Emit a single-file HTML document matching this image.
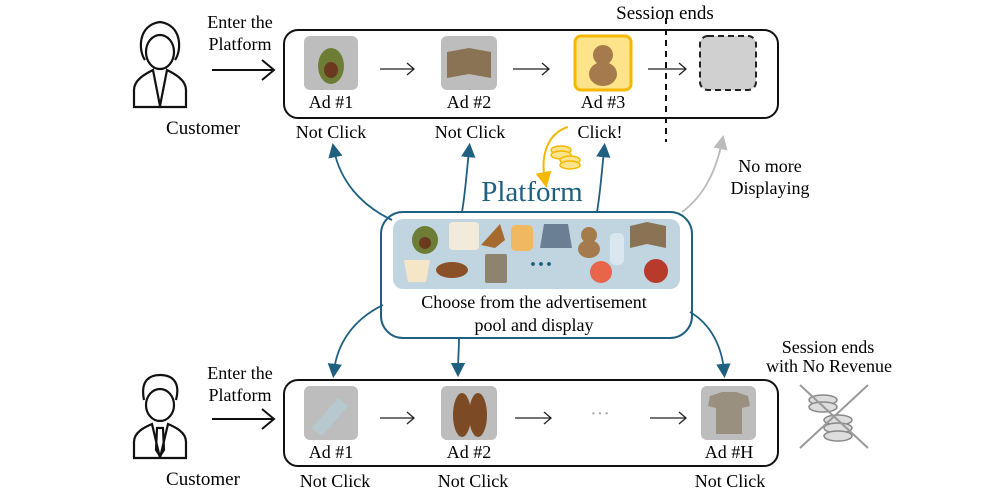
<!DOCTYPE html>
<html><head><meta charset="utf-8"><style>
html,body{margin:0;padding:0;background:#fff;}
svg{display:block;font-family:"Liberation Serif",serif;}
</style></head><body>
<svg width="997" height="495" viewBox="0 0 997 495" xmlns="http://www.w3.org/2000/svg">
<defs>
<marker id="ab" markerWidth="8" markerHeight="8" refX="4" refY="4" orient="auto"><path d="M0,0 L8,4 L0,8 z" fill="#1f6080"/></marker>
<marker id="ag" markerWidth="8" markerHeight="8" refX="4" refY="4" orient="auto"><path d="M0,0 L8,4 L0,8 z" fill="#bbb"/></marker>
<marker id="ay" markerWidth="8" markerHeight="8" refX="4" refY="4" orient="auto"><path d="M0,0 L8,4 L0,8 z" fill="#f5b800"/></marker>
</defs>
<g fill="#000" font-size="18" text-anchor="middle">
<g fill="none" stroke="#111" stroke-width="2.2">
<path d="M145,60 C138,50 138,25 160,22 C182,25 182,50 175,60"/>
<ellipse cx="160" cy="52" rx="14" ry="17"/>
<path d="M134,107 L134,90 C134,80 145,74 153,70 L160,106 L167,70 C175,74 186,80 186,90 L186,107 Z"/>
</g>
<text x="203" y="134" font-size="19">Customer</text>
<text x="240" y="28">Enter the</text><text x="240" y="50">Platform</text>
<g stroke="#111" stroke-width="2" fill="none"><path d="M212,70 L274,70 M262,60 L274,70 L262,80"/></g>
<rect x="284" y="30" width="494" height="88" rx="14" fill="none" stroke="#111" stroke-width="2"/>
<rect x="304" y="36" width="54" height="54" rx="6" fill="#bdbdbd"/>
<ellipse cx="331" cy="66" rx="13" ry="18" fill="#6e7d35"/><ellipse cx="331" cy="70" rx="7" ry="8" fill="#6b3a1e"/>
<rect x="441" y="36" width="56" height="54" rx="6" fill="#bdbdbd"/>
<path d="M447,52 L469,48 L491,52 L491,78 L469,74 L447,78Z" fill="#8a7355"/>
<rect x="575" y="36" width="56" height="54" rx="6" fill="#fde38a" stroke="#f5b800" stroke-width="3"/>
<circle cx="603" cy="55" r="10" fill="#a57a4c"/><ellipse cx="603" cy="74" rx="14" ry="12" fill="#a57a4c"/>
<rect x="700" y="36" width="56" height="54" rx="8" fill="#d0d0d0" stroke="#222" stroke-width="2" stroke-dasharray="6,4"/>
<g stroke="#222" stroke-width="1.3" fill="none"><path d="M380,69 L414,69 M407,63 L414,69 L407,75"/><path d="M513,69 L549,69 M542,63 L549,69 L542,75"/><path d="M648,69 L686,69 M679,63 L686,69 L679,75"/></g>
<text x="331" y="108">Ad #1</text><text x="469" y="108">Ad #2</text><text x="603" y="108">Ad #3</text>
<text x="331" y="138">Not Click</text><text x="470" y="138">Not Click</text><text x="600" y="138">Click!</text>
<line x1="666" y1="18" x2="666" y2="142" stroke="#111" stroke-width="2" stroke-dasharray="6,5"/>
<text x="665" y="19" font-size="19">Session ends</text>
<text x="770" y="172">No more</text><text x="770" y="194">Displaying</text>
<g fill="#fde38a" stroke="#f5b800" stroke-width="1.5"><ellipse cx="561" cy="150" rx="10" ry="4"/><ellipse cx="561" cy="155" rx="10" ry="4"/><ellipse cx="570" cy="160" rx="10" ry="4"/><ellipse cx="570" cy="165" rx="10" ry="4"/></g>
<path d="M568,127 C548,133 540,155 545,180" fill="none" stroke="#f5b800" stroke-width="2" marker-end="url(#ay)"/>
<text x="532" y="201" font-size="29" fill="#1f6080">Platform</text>
<rect x="381" y="212" width="311" height="126" rx="22" fill="#fff" stroke="#1f6080" stroke-width="2"/>
<rect x="393" y="219" width="287" height="70" rx="10" fill="#c0d5e0"/>
<g>
<ellipse cx="425" cy="240" rx="13" ry="14" fill="#6e7d35"/><ellipse cx="425" cy="243" rx="6" ry="6" fill="#6b3a1e"/>
<rect x="449" y="222" width="30" height="28" rx="4" fill="#f2ebdc"/>
<path d="M481,245 L500,224 L505,240 L495,248Z" fill="#a66a30"/>
<rect x="511" y="225" width="22" height="26" rx="5" fill="#f0b860"/>
<path d="M544,224 L568,224 L572,248 L540,248Z" fill="#6b7f92"/>
<circle cx="589" cy="235" r="8" fill="#a57a4c"/><ellipse cx="589" cy="249" rx="11" ry="9" fill="#a57a4c"/>
<rect x="610" y="233" width="14" height="32" rx="5" fill="#dbe7ee"/>
<path d="M630,226 L647,222 L666,226 L666,248 L647,244 L630,248Z" fill="#8a7355"/>
<path d="M404,260 L430,260 L426,282 L408,282Z" fill="#f6e6c8"/>
<ellipse cx="452" cy="270" rx="16" ry="8" fill="#8a5028"/>
<rect x="485" y="254" width="22" height="29" rx="2" fill="#8e836e"/>
<text x="541" y="272" font-size="24" fill="#1f6080" font-weight="bold">···</text>
<circle cx="601" cy="272" r="11" fill="#e8654a"/>
<circle cx="656" cy="271" r="12" fill="#b83a2a"/>
</g>
<text x="534" y="308">Choose from the advertisement</text>
<text x="534" y="331">pool and display</text>
<g fill="none" stroke="#1f6080" stroke-width="1.8">
<path d="M392,220 C360,205 340,180 334,150" marker-end="url(#ab)"/>
<path d="M462,212 C465,195 467,170 469,150" marker-end="url(#ab)"/>
<path d="M597,212 C600,195 602,170 604,150" marker-end="url(#ab)"/>
<path d="M383,305 C352,320 337,345 334,371" marker-end="url(#ab)"/>
<path d="M459,338 C459,350 458,360 458,370" marker-end="url(#ab)"/>
<path d="M690,312 C712,325 722,348 724,371" marker-end="url(#ab)"/>
</g>
<path d="M682,212 C705,195 716,170 722,142" fill="none" stroke="#bbb" stroke-width="1.8" marker-end="url(#ag)"/>
<g fill="none" stroke="#111" stroke-width="2.2">
<path d="M144,400 C140,380 150,375 160,375 C175,375 180,385 176,400"/>
<ellipse cx="160" cy="405" rx="14" ry="16"/>
<path d="M134,458 L134,442 C134,432 145,427 152,424 L160,458 L168,424 C175,427 186,432 186,442 L186,458 Z"/>
<path d="M157,428 L163,428 L164,450 L160,456 L156,450Z"/>
</g>
<text x="203" y="485" font-size="19">Customer</text>
<text x="240" y="379">Enter the</text><text x="240" y="401">Platform</text>
<g stroke="#111" stroke-width="2" fill="none"><path d="M212,419 L274,419 M262,409 L274,419 L262,429"/></g>
<rect x="284" y="380" width="494" height="86" rx="14" fill="none" stroke="#111" stroke-width="2"/>
<rect x="304" y="386" width="54" height="54" rx="6" fill="#bdbdbd"/>
<path d="M312,428 L338,398 L348,406 L322,436Z" fill="#b7c9cf"/>
<rect x="441" y="386" width="56" height="54" rx="6" fill="#bdbdbd"/>
<ellipse cx="462" cy="415" rx="9" ry="22" fill="#7c4a24"/><ellipse cx="478" cy="415" rx="9" ry="22" fill="#7c4a24"/>
<rect x="701" y="386" width="55" height="54" rx="6" fill="#bdbdbd"/>
<path d="M710,396 L722,392 L736,392 L748,396 L750,406 L742,408 L742,434 L716,434 L716,408 L708,406Z" fill="#9a9080"/>
<g stroke="#222" stroke-width="1.3" fill="none"><path d="M380,418 L414,418 M407,412 L414,418 L407,424"/><path d="M515,418 L551,418 M544,412 L551,418 L544,424"/><path d="M650,418 L686,418 M679,412 L686,418 L679,424"/></g>
<text x="600" y="420" fill="#aaa" font-size="20">···</text>
<text x="331" y="458">Ad #1</text><text x="469" y="458">Ad #2</text><text x="729" y="458">Ad #H</text>
<text x="335" y="487">Not Click</text><text x="473" y="487">Not Click</text><text x="730" y="487">Not Click</text>
<text x="828" y="353">Session ends</text><text x="829" y="372">with No Revenue</text>
<g fill="#ddd" stroke="#888" stroke-width="1.5"><ellipse cx="823" cy="400" rx="14" ry="5"/><ellipse cx="823" cy="407" rx="14" ry="5"/><ellipse cx="838" cy="420" rx="14" ry="5"/><ellipse cx="838" cy="428" rx="14" ry="5"/><ellipse cx="838" cy="436" rx="14" ry="5"/></g>
<g stroke="#999" stroke-width="2"><line x1="800" y1="385" x2="868" y2="448"/><line x1="868" y1="385" x2="800" y2="448"/></g>
</g>
</svg>
</body></html>
